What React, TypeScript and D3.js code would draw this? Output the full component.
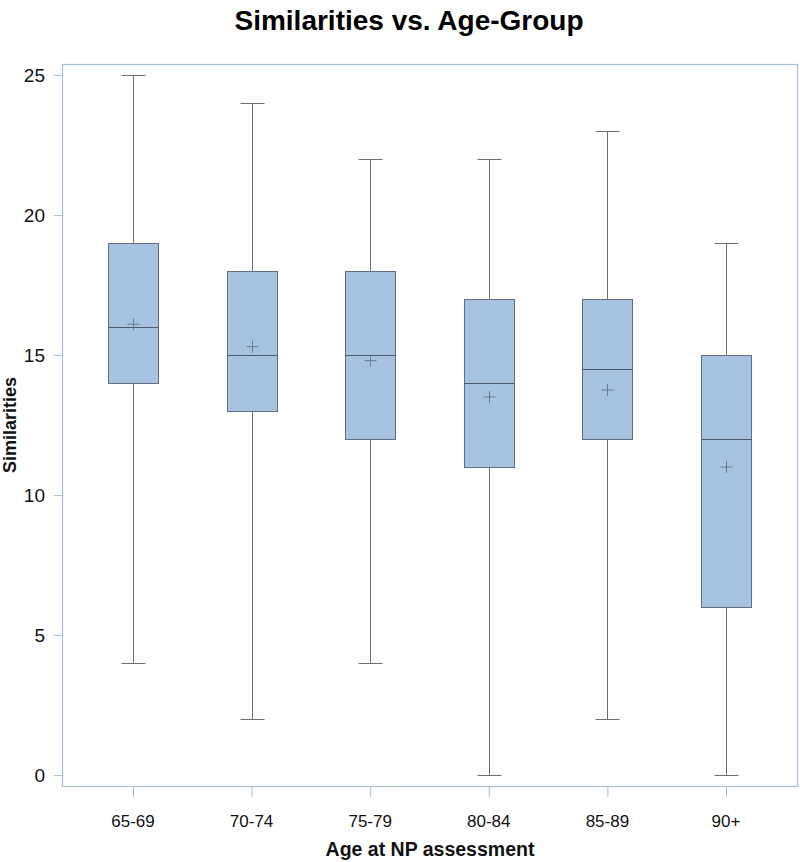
import React from "react";
import * as d3 from "d3";

const categories = ["65-69", "70-74", "75-79", "80-84", "85-89", "90+"];
const minVals = [4, 2, 4, 0, 2, 0];
const q1Vals = [14, 13, 12, 11, 12, 6];
const medianVals = [16, 15, 15, 14, 14.5, 12];
const q3Vals = [19, 18, 18, 17, 17, 15];
const maxVals = [25, 24, 22, 22, 23, 19];
const meanVals = [16.1, 15.3, 14.8, 13.5, 13.75, 11.0];
const yTicks = [0, 5, 10, 15, 20, 25];

const W = 800;
const H = 862;
const frame = { left: 62, right: 797, top: 64, bottom: 786 };
const FONT = "'Liberation Sans', Arial, sans-serif";

export default function App() {
  const x = d3
    .scalePoint<string>()
    .domain(categories)
    .range([frame.left + 71, frame.right - 71]);
  const y = d3.scaleLinear().domain([0, 25]).range([775, 75]);
  const boxHalf = 25;
  const capHalf = 12;
  const frameColor = "#a9bdd3";
  const boxStroke = "#5f6f80";
  const whisker = "#6e6e6e";

  return (
    <svg width={W} height={H} style={{ display: "block", position: "absolute", left: 0, top: 0 }} fontFamily={FONT}>
      <rect x={0} y={0} width={W} height={H} fill="#fff" />
      <text x={409} y={30} textAnchor="middle" fontSize={28} fontWeight="bold" fill="#000">
        Similarities vs. Age-Group
      </text>
      <rect
        x={frame.left + 0.5}
        y={frame.top + 0.5}
        width={frame.right - frame.left}
        height={frame.bottom - frame.top}
        fill="none"
        stroke={frameColor}
        strokeWidth={1.2}
      />
      {yTicks.map((t) => (
        <g key={t}>
          <line x1={frame.left - 8} x2={frame.left} y1={y(t) + 0.5} y2={y(t) + 0.5} stroke={frameColor} />
          <text x={frame.left - 17} y={y(t) + 6.5} textAnchor="end" fontSize={19} fill="#111">
            {t}
          </text>
        </g>
      ))}
      {categories.map((c) => (
        <g key={c}>
          <line x1={x(c)! + 0.5} x2={x(c)! + 0.5} y1={frame.bottom} y2={frame.bottom + 11} stroke={frameColor} />
          <text x={x(c)!} y={827} textAnchor="middle" fontSize={17} fill="#111">
            {c}
          </text>
        </g>
      ))}
      <text x={430} y={856} textAnchor="middle" fontSize={19.5} fontWeight="bold" fill="#111">
        Age at NP assessment
      </text>
      <text
        transform={`translate(16,${(frame.top + frame.bottom) / 2}) rotate(-90)`}
        textAnchor="middle"
        fontSize={18}
        fontWeight="bold"
        fill="#111"
      >
        Similarities
      </text>
      {categories.map((c, i) => {
        const cx = Math.round(x(c)!) + 0.5;
        return (
          <g key={c}>
            <line x1={cx} x2={cx} y1={y(maxVals[i])} y2={y(q3Vals[i])} stroke={whisker} />
            <line x1={cx} x2={cx} y1={y(q1Vals[i])} y2={y(minVals[i])} stroke={whisker} />
            <line x1={cx - capHalf} x2={cx + capHalf} y1={y(maxVals[i]) + 0.5} y2={y(maxVals[i]) + 0.5} stroke={whisker} />
            <line x1={cx - capHalf} x2={cx + capHalf} y1={y(minVals[i]) + 0.5} y2={y(minVals[i]) + 0.5} stroke={whisker} />
            <rect
              x={cx - boxHalf}
              y={y(q3Vals[i]) + 0.5}
              width={boxHalf * 2}
              height={y(q1Vals[i]) - y(q3Vals[i])}
              fill="#a7c3e2"
              stroke={boxStroke}
              strokeWidth={1}
            />
            <line
              x1={cx - boxHalf}
              x2={cx + boxHalf}
              y1={y(medianVals[i]) + 0.5}
              y2={y(medianVals[i]) + 0.5}
              stroke="#4a5a6c"
              strokeWidth={1.2}
            />
            <line x1={cx - 6} x2={cx + 6} y1={y(meanVals[i])} y2={y(meanVals[i])} stroke="#6b7b8f" />
            <line x1={cx} x2={cx} y1={y(meanVals[i]) - 6} y2={y(meanVals[i]) + 6} stroke="#6b7b8f" />
          </g>
        );
      })}
    </svg>
  );
}
